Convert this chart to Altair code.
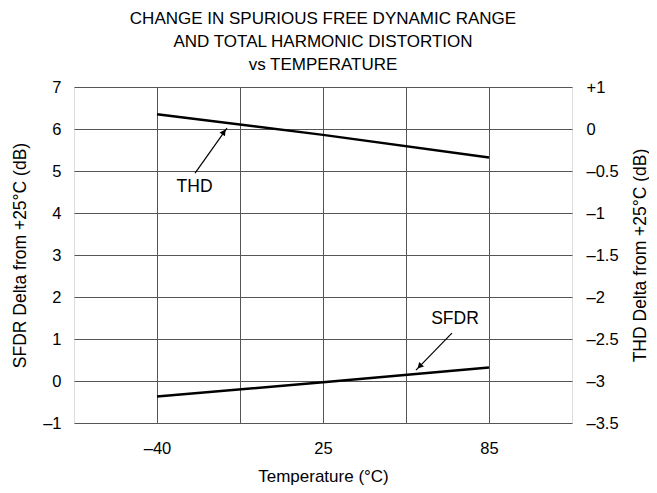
import altair as alt
import pandas as pd

# Data
temps = [-40, 25, 85]
sfdr = [-0.37, -0.03, 0.32]      # SFDR delta (dB), left axis
thd = [0.175, -0.07, -0.34]      # THD delta (dB), right axis

# Annotation positions (data coordinates)
labels = ["THD", "SFDR"]
label_x = [-25.3, 72.7]
label_y = [4.62, 1.48]
tail_x = [-25.1, 71.6]
tail_y = [4.95, 1.14]
tip_x = [-12.6, 58.6]
tip_y = [6.02, 0.26]
head_x = [-13.8, 59.9]
head_y = [5.93, 0.35]
head_angle = [35, 224]

x_grid = [-40, -7.5, 25, 55, 85]
left_ticks = [-1, 0, 1, 2, 3, 4, 5, 6, 7]
right_ticks = [-3.5, -3, -2.5, -2, -1.5, -1, -0.5, 0, 0.5]

W, H = 498, 336
FONT = "Liberation Sans"
TICK = 16.5
TITLE = 17

xscale = alt.Scale(domain=[-72.5, -40, 25, 85, 115], range=[0, 83, 249, 415, 498], nice=False, zero=False)
xenc_axis = alt.Axis(values=x_grid, grid=True, gridColor="#555", gridWidth=1, domain=False, ticks=False,
                     tickSize=0, labelPadding=17, titlePadding=12, labelFontSize=TICK, titleFontSize=TITLE,
                     labelExpr="datum.value == -40 ? '–40' : (datum.value == 25 || datum.value == 85) ? toString(datum.value) : ''",
                     title="Temperature (°C)", labelFont=FONT, titleFont=FONT, titleFontWeight="normal",
                     labelColor="black", titleColor="black")

sfdr_df = pd.DataFrame({"t": temps, "v": sfdr})
thd_df = pd.DataFrame({"t": temps, "v": thd})

ys_left = alt.Scale(domain=[-1, 7], nice=False, zero=False)
ys_right = alt.Scale(domain=[-3.5, 0.5], nice=False, zero=False)

left_axis = alt.Axis(values=left_ticks, grid=True, gridColor="#555", gridWidth=1, domain=False, ticks=False,
                     tickSize=0, labelPadding=13, titlePadding=13, labelFontSize=TICK, titleFontSize=17.5,
                     labelExpr="datum.value < 0 ? '–' + toString(abs(datum.value)) : toString(datum.value)",
                     title="SFDR Delta from +25°C (dB)", labelFont=FONT, titleFont=FONT,
                     titleFontWeight="normal", labelColor="black", titleColor="black")
right_axis = alt.Axis(values=right_ticks, grid=False, domain=False, ticks=False, orient="right",
                      tickSize=0, labelPadding=14, titlePadding=31, labelFontSize=TICK, titleFontSize=17.5,
                      titleAngle=270,
                      labelExpr="datum.value == 0.5 ? '+1' : datum.value < 0 ? '–' + toString(abs(datum.value)) : toString(datum.value)",
                      title="THD Delta from +25°C (dB)", labelFont=FONT, titleFont=FONT,
                      titleFontWeight="normal", labelColor="black", titleColor="black")

sfdr_line = alt.Chart(sfdr_df).mark_line(color="black", strokeWidth=2.5).encode(
    x=alt.X("t:Q", scale=xscale, axis=xenc_axis),
    y=alt.Y("v:Q", scale=ys_left, axis=left_axis),
)

ann = pd.DataFrame({"label": labels, "lx": label_x, "ly": label_y, "tx": tail_x, "ty": tail_y,
                    "px": tip_x, "py": tip_y, "hx": head_x, "hy": head_y, "ang": head_angle})

arrows = alt.Chart(ann).mark_rule(color="black", strokeWidth=1.2).encode(
    x=alt.X("tx:Q", scale=xscale), y=alt.Y("ty:Q", scale=ys_left),
    x2="px:Q", y2="py:Q")
heads = alt.Chart(ann).mark_point(shape="triangle-up", filled=True, color="black", size=45, opacity=1).encode(
    x=alt.X("hx:Q", scale=xscale), y=alt.Y("hy:Q", scale=ys_left),
    angle=alt.Angle("ang:Q", scale=None))
texts = alt.Chart(ann).mark_text(font=FONT, fontSize=17.5, color="black").encode(
    x=alt.X("lx:Q", scale=xscale), y=alt.Y("ly:Q", scale=ys_left), text="label:N")

left_layer = alt.layer(sfdr_line, arrows, heads, texts)

thd_line = alt.Chart(thd_df).mark_line(color="black", strokeWidth=2.5).encode(
    x=alt.X("t:Q", scale=xscale),
    y=alt.Y("v:Q", scale=ys_right, axis=right_axis),
)

chart = alt.layer(left_layer, thd_line).resolve_scale(y="independent").properties(
    width=W, height=H,
    title=alt.TitleParams(
        text=["CHANGE IN SPURIOUS FREE DYNAMIC RANGE", "AND TOTAL HARMONIC DISTORTION", "vs TEMPERATURE"],
        font=FONT, fontSize=17, fontWeight="normal", color="black", anchor="middle",
        lineHeight=23, offset=5),
    autosize=alt.AutoSizeParams(type="none"),
    padding={"left": 66, "top": 79, "right": 77, "bottom": 62},
).configure_view(stroke="black", strokeWidth=2.5).configure(background="white")

chart.save("out.html", embed_options={"renderer": "svg", "actions": False})
